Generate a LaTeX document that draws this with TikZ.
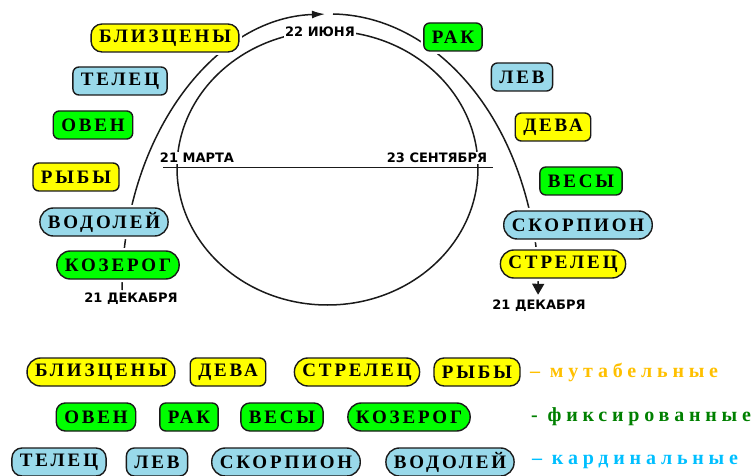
\documentclass[tikz,border=0pt]{standalone}
\usepackage{fontspec}
\setmainfont{Liberation Serif}
\newfontfamily\signfont{Liberation Serif}[LetterSpace=15]
\newfontfamily\legendfont{Liberation Serif}[LetterSpace=24]
\newfontfamily\datefont{DejaVu Sans}
\usepackage{tikz}
\usetikzlibrary{positioning, arrows.meta}
\definecolor{mutyellow}{HTML}{FFFF00}
\definecolor{fixgreen}{HTML}{00FF00}
\definecolor{cardblue}{HTML}{99D9EA}
\definecolor{mutgold}{HTML}{FFC000}
\definecolor{fixdark}{HTML}{008000}
\definecolor{cardcyan}{HTML}{00BFFF}
\definecolor{edgegray}{HTML}{1A1A1A}
\tikzset{
  signbox/.style={rectangle, rounded corners=6pt, draw=edgegray, line width=1.4pt, minimum height=28pt, inner xsep=8pt, inner ysep=0pt, text=black, font=\signfont\bfseries\fontsize{19}{19}\selectfont, preaction={draw=white, line width=6pt}},
  pillbox/.style={signbox, rounded corners=13.5pt},
  mutsign/.style={fill=mutyellow},
  fixsign/.style={fill=fixgreen},
  cardsign/.style={fill=cardblue},
  datelabel/.style={fill=white, inner sep=1.5pt, font=\datefont\bfseries\fontsize{13}{13}\selectfont},
  legendtext/.style={anchor=west, inner sep=0pt, font=\legendfont\bfseries\fontsize{20}{20}\selectfont},
  orbit/.style={draw=edgegray, line width=1.5pt}
}

\begin{document}
\begin{tikzpicture}[x=1pt, y=1pt]
    \useasboundingbox (0,0) rectangle (756,475);

    % --- Orbitas ---
    \draw [orbit] (327.5,307) ellipse [x radius=150.5, y radius=137];
    \draw [orbit, -{Latex[length=13pt,width=8pt]}] (122,185) arc [start angle=180, end angle=91.4, x radius=208, y radius=276];
    \draw [orbit, -{Triangle[length=11pt,width=12pt]}] (333,461) arc [start angle=89.2, end angle=-1, x radius=208, y radius=276];

    % --- Fechas ---
    \node (junio) [datelabel] at (320,443) {22 ИЮНЯ};
    \node (marzo) [datelabel] at (197,317) {21 МАРТА};
    \node (sept) [datelabel] at (437,317) {23 СЕНТЯБРЯ};
    \node (dicizq) [datelabel] at (131,176) {21 ДЕКАБРЯ};
    \node (dicder) [datelabel] at (539,169) {21 ДЕКАБРЯ};
    \draw [orbit] (163,307.5) -- (493,307.5);

    % --- Signos ---
    \node (geminis) [pillbox, mutsign, rounded corners=11pt] at (165,437) {БЛИЗЦЕНЫ};
    \node (tauro) [signbox, cardsign] at (120,394) {ТЕЛЕЦ};
    \node (aries) [signbox, fixsign] at (93,350) {ОВЕН};
    \node (piscis) [signbox, mutsign] at (76,298) {РЫБЫ};
    \node (acuario) [pillbox, cardsign] at (104,253) {ВОДОЛЕЙ};
    \node (capri) [pillbox, fixsign] at (118,210) {КОЗЕРОГ};
    \node (cancer) [signbox, fixsign] at (453,438) {РАК};
    \node (leo) [signbox, cardsign] at (522,398) {ЛЕВ};
    \node (virgo) [signbox, mutsign] at (553,348) {ДЕВА};
    \node (libra) [signbox, fixsign] at (581,294) {ВЕСЫ};
    \node (escorp) [pillbox, cardsign] at (578,250) {СКОРПИОН};
    \node (sagit) [pillbox, mutsign] at (563,211) {СТРЕЛЕЦ};

    % --- Leyenda ---
    \node (lgeminis) [pillbox, mutsign] at (101,103) {БЛИЗЦЕНЫ};
    \node (lvirgo) [signbox, mutsign] at (228,103) {ДЕВА};
    \node (lsagit) [pillbox, mutsign] at (357,103) {СТРЕЛЕЦ};
    \node (lpiscis) [signbox, mutsign, rounded corners=10pt] at (477,103) {РЫБЫ};
    \node (mutables) [legendtext, text=mutgold] at (530,103) {– мутабельные};

    \node (laries) [signbox, fixsign, rounded corners=9pt] at (96,58) {ОВЕН};
    \node (lcancer) [signbox, fixsign] at (189,58) {РАК};
    \node (llibra) [signbox, fixsign, rounded corners=9pt] at (282,58) {ВЕСЫ};
    \node (lcapri) [pillbox, fixsign] at (409,58) {КОЗЕРОГ};
    \node (fijos) [legendtext, text=fixdark] at (531,58) {- фиксированные};

    \node (ltauro) [signbox, cardsign, rounded corners=10pt] at (59,13) {ТЕЛЕЦ};
    \node (lleo) [signbox, cardsign, rounded corners=8pt] at (157,13) {ЛЕВ};
    \node (lescorp) [pillbox, cardsign] at (286,13) {СКОРПИОН};
    \node (lacuario) [pillbox, cardsign] at (450,13) {ВОДОЛЕЙ};
    \node (cardinales) [legendtext, text=cardcyan] at (532,13) {– кардинальные};

\end{tikzpicture}
\end{document}
